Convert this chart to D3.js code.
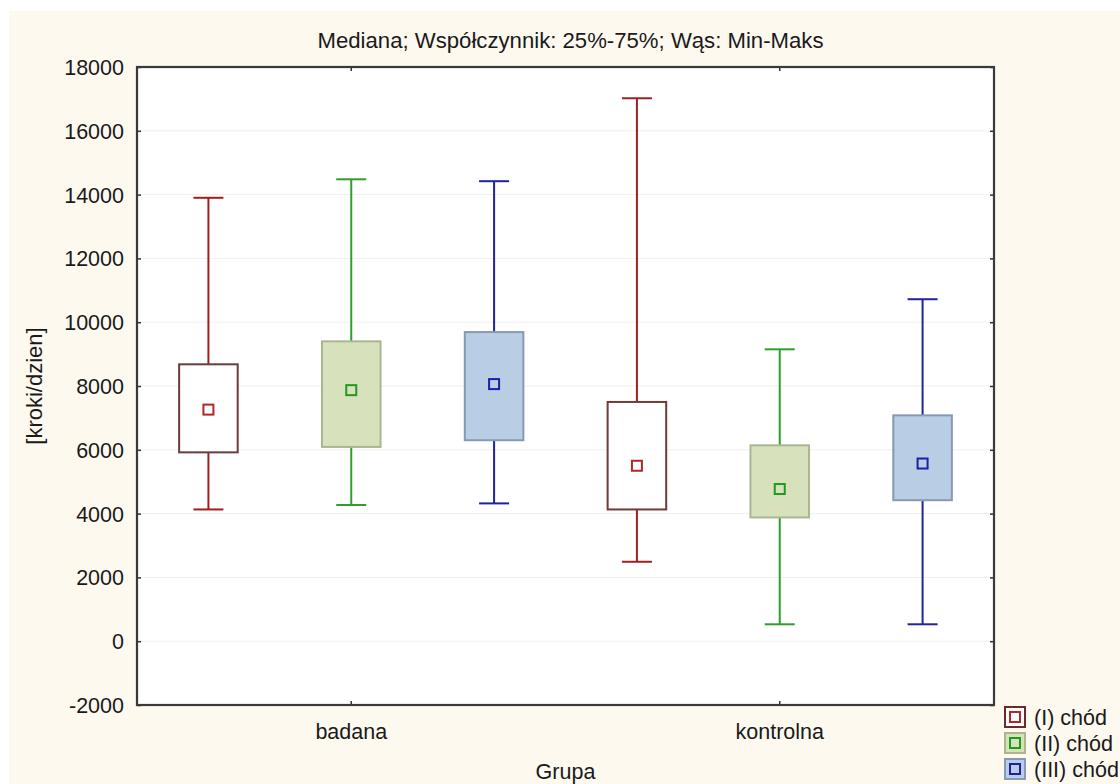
<!DOCTYPE html>
<html>
<head>
<meta charset="utf-8">
<script src="https://cdn.jsdelivr.net/npm/d3@7"></script>
<style>
  html, body { margin: 0; padding: 0; background: #ffffff; }
  svg { display: block; }
  text { font-family: "Liberation Sans", Arial, sans-serif; fill: #1a1a1a; }
</style>
</head>
<body>
<svg id="chart" width="1120" height="784"></svg>
<script>
// ---- data ----
const categories = ["badana", "kontrolna"];
const seriesNames = ["(I) chód", "(II) chód", "(III) chód"];
// values per category, per series [I, II, III]
const minVals    = [[4130, 4270, 4320], [2490, 530, 530]];
const q1Vals     = [[5920, 6090, 6300], [4130, 3880, 4420]];
const medianVals = [[7260, 7870, 8060], [5500, 4770, 5570]];
const q3Vals     = [[8680, 9400, 9690], [7500, 6140, 7080]];
const maxVals    = [[13900, 14480, 14420], [17020, 9150, 10720]];
const yTicks = [-2000, 0, 2000, 4000, 6000, 8000, 10000, 12000, 14000, 16000, 18000];

const titleText = "Mediana; Współczynnik: 25%-75%; Wąs: Min-Maks";
const xTitle = "Grupa";
const yTitle = "[kroki/dzien]";

// ---- styles ----
const whiskerColor = ["#a01e1e", "#2f9e2f", "#22229a"];
const boxFill = ["#ffffff", "#d7e2bd", "#b9cde4"];
const boxStroke = ["#6e3a3a", "#a9b690", "#8799b3"];
const medColor = ["#b02828", "#1e9a1e", "#1e1ea6"];
const FS = 21.5;

const svg = d3.select("#chart");
const W = 1120, H = 784;
const plot = { left: 137, right: 994, top: 67, bottom: 705 };

// background
svg.append("rect").attr("x", 0).attr("y", 0).attr("width", W).attr("height", H).attr("fill", "#ffffff");
svg.append("rect").attr("x", 9).attr("y", 11).attr("width", W - 9).attr("height", H - 11).attr("fill", "#fdf9ef");
svg.append("rect").attr("x", plot.left).attr("y", plot.top)
  .attr("width", plot.right - plot.left).attr("height", plot.bottom - plot.top).attr("fill", "#ffffff");

// scales
const y = d3.scaleLinear().domain([-2000, 18000]).range([plot.bottom, plot.top]);
const x = d3.scaleBand().domain(categories).range([plot.left, plot.right]).padding(0);
const xs = d3.scaleBand().domain(d3.range(seriesNames.length)).range([0, x.bandwidth()]).padding(0);

// gridlines
svg.append("g").selectAll("line").data(yTicks.slice(1, -1)).join("line")
  .attr("x1", plot.left).attr("x2", plot.right)
  .attr("y1", d => y(d)).attr("y2", d => y(d))
  .attr("stroke", "#efefef").attr("stroke-width", 1);

// axes (inward ticks)
const fmt = v => String(v);
const yAxisL = svg.append("g").attr("transform", `translate(${plot.left},0)`)
  .call(d3.axisLeft(y).tickValues(yTicks).tickFormat(fmt).tickSize(-4).tickPadding(13));
const yAxisR = svg.append("g").attr("transform", `translate(${plot.right},0)`)
  .call(d3.axisRight(y).tickValues(yTicks).tickFormat("").tickSize(-4));
const xAxisB = svg.append("g").attr("transform", `translate(0,${plot.bottom})`)
  .call(d3.axisBottom(x).tickSize(-4).tickPadding(19));
const xAxisT = svg.append("g").attr("transform", `translate(0,${plot.top})`)
  .call(d3.axisTop(x).tickSize(-4).tickFormat(""));
[yAxisL, yAxisR, xAxisB, xAxisT].forEach(g => {
  g.select(".domain").remove();
  g.selectAll(".tick line").attr("stroke", "#333").attr("stroke-width", 1.5);
  g.selectAll(".tick text").attr("font-size", FS).attr("fill", "#1a1a1a")
    .attr("font-family", "'Liberation Sans', Arial, sans-serif");
});
yAxisL.selectAll(".tick text").attr("dy", "0.35em");

// frame
svg.append("rect").attr("x", plot.left).attr("y", plot.top)
  .attr("width", plot.right - plot.left).attr("height", plot.bottom - plot.top)
  .attr("fill", "none").attr("stroke", "#3a3a3a").attr("stroke-width", 2.2);

// boxes
const boxW = xs.bandwidth() * 0.41;
const capW = xs.bandwidth() * 0.21;
const medS = 10;
const items = [];
categories.forEach((c, ci) => {
  seriesNames.forEach((s, si) => {
    items.push({ c, ci, si, min: minVals[ci][si], q1: q1Vals[ci][si], med: medianVals[ci][si],
                 q3: q3Vals[ci][si], max: maxVals[ci][si] });
  });
});
const g = svg.append("g");
const grp = g.selectAll("g.box").data(items).join("g").attr("class", "box")
  .attr("transform", d => `translate(${x(d.c) + xs(d.si) + xs.bandwidth() / 2},0)`);
// whiskers
grp.append("line").attr("x1", 0).attr("x2", 0).attr("y1", d => y(d.max)).attr("y2", d => y(d.q3))
  .attr("stroke", d => whiskerColor[d.si]).attr("stroke-width", 2);
grp.append("line").attr("x1", 0).attr("x2", 0).attr("y1", d => y(d.q1)).attr("y2", d => y(d.min))
  .attr("stroke", d => whiskerColor[d.si]).attr("stroke-width", 2);
grp.append("line").attr("x1", -capW / 2).attr("x2", capW / 2).attr("y1", d => y(d.max)).attr("y2", d => y(d.max))
  .attr("stroke", d => whiskerColor[d.si]).attr("stroke-width", 2);
grp.append("line").attr("x1", -capW / 2).attr("x2", capW / 2).attr("y1", d => y(d.min)).attr("y2", d => y(d.min))
  .attr("stroke", d => whiskerColor[d.si]).attr("stroke-width", 2);
// box
grp.append("rect").attr("x", -boxW / 2).attr("width", boxW)
  .attr("y", d => y(d.q3)).attr("height", d => y(d.q1) - y(d.q3))
  .attr("fill", d => boxFill[d.si]).attr("stroke", d => boxStroke[d.si]).attr("stroke-width", 2);
// median marker
grp.append("rect").attr("x", -medS / 2).attr("width", medS).attr("height", medS)
  .attr("y", d => y(d.med) - medS / 2)
  .attr("fill", "none").attr("stroke", d => medColor[d.si]).attr("stroke-width", 2);

// title & axis titles
svg.append("text").attr("x", (plot.left + plot.right) / 2 + 5).attr("y", 48)
  .attr("text-anchor", "middle").attr("font-size", FS)
  .attr("textLength", 506).attr("lengthAdjust", "spacingAndGlyphs").text(titleText);
svg.append("text").attr("x", (plot.left + plot.right) / 2).attr("y", 779)
  .attr("text-anchor", "middle").attr("font-size", FS).text(xTitle);
svg.append("text").attr("transform", `translate(42,${(plot.top + plot.bottom) / 2}) rotate(-90)`)
  .attr("text-anchor", "middle").attr("font-size", 22).text(yTitle);

// legend
const leg = svg.append("g");
const legItems = leg.selectAll("g").data(seriesNames).join("g")
  .attr("transform", (d, i) => `translate(1005,${707 + i * 26})`);
legItems.append("rect").attr("x", 0).attr("y", 0).attr("width", 20).attr("height", 20)
  .attr("fill", (d, i) => boxFill[i]).attr("stroke", (d, i) => i === 0 ? "#6e2a2a" : boxStroke[i]).attr("stroke-width", 2);
legItems.append("rect").attr("x", 5).attr("y", 5).attr("width", 10).attr("height", 10)
  .attr("fill", "none").attr("stroke", (d, i) => medColor[i]).attr("stroke-width", 2);
legItems.append("text").attr("x", 29).attr("y", 18).attr("font-size", FS).text(d => d);
</script>
</body>
</html>
